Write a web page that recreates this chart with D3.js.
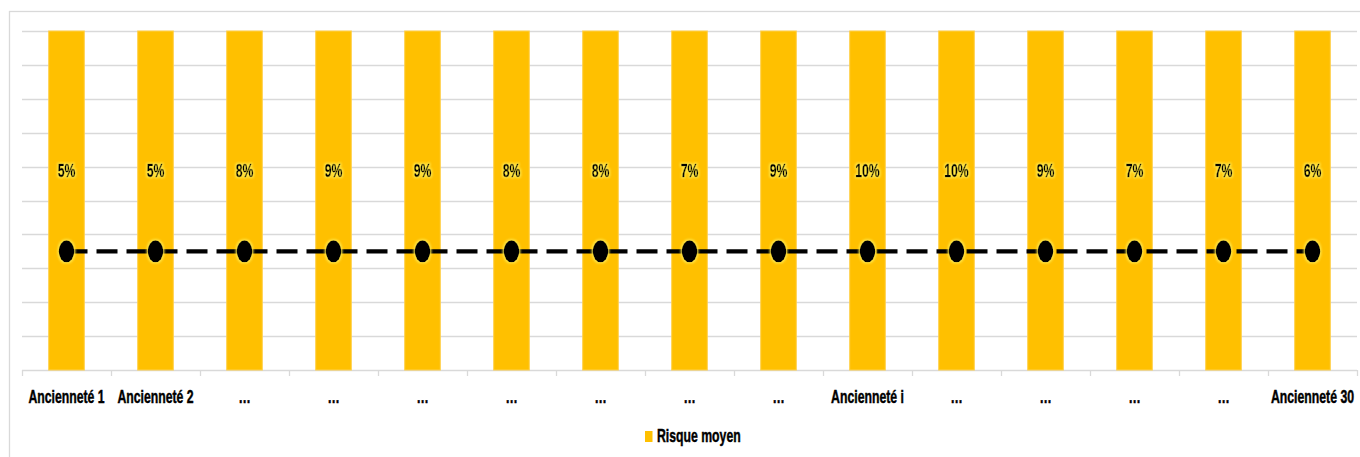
<!DOCTYPE html>
<html><head><meta charset="utf-8">
<script src="https://cdn.jsdelivr.net/npm/d3@7"></script>
<style>
html,body{margin:0;padding:0;background:#fff;}
svg{display:block;}
text{font-family:"Liberation Sans","Arial",sans-serif;font-weight:bold;fill:#000;stroke:#000;stroke-width:0.45px;}
</style></head>
<body>
<svg id="c" width="1360" height="457"></svg>
<script>
// ---- data ----
const categories = ["Ancienneté 1","Ancienneté 2","…","…","…","…","…","…","…","Ancienneté i","…","…","…","…","Ancienneté 30"];
const barValues = [1,1,1,1,1,1,1,1,1,1,1,1,1,1,1];          // bar height (share of axis max)
const riskLabels = [5,5,8,9,9,8,8,7,9,10,10,9,7,7,6];       // "Risque moyen" data labels (%)
const lineValues = [0.35,0.35,0.35,0.35,0.35,0.35,0.35,0.35,0.35,0.35,0.35,0.35,0.35,0.35,0.35];
const yTicks = [0,0.1,0.2,0.3,0.4,0.5,0.6,0.7,0.8,0.9,1];
const legendLabel = "Risque moyen";

const svg = d3.select("#c");
const pLeft = 22, pRight = 1357, pTop = 31, pBottom = 370;
const FS = 17.5, SX = 0.70;   // compressed text look

const defs = svg.append("defs");
const glow = defs.append("filter").attr("id","glow").attr("x","-50%").attr("y","-50%").attr("width","200%").attr("height","200%");
glow.append("feMorphology").attr("in","SourceAlpha").attr("operator","dilate").attr("radius",1).attr("result","d");
glow.append("feGaussianBlur").attr("in","d").attr("stdDeviation",1.2).attr("result","b");
glow.append("feFlood").attr("flood-color","#ffe84a").attr("result","f");
glow.append("feComposite").attr("in","f").attr("in2","b").attr("operator","in").attr("result","g");
const m = glow.append("feMerge");
m.append("feMergeNode").attr("in","g");
m.append("feMergeNode").attr("in","SourceGraphic");

// outer chart border
svg.append("rect").attr("x",9.5).attr("y",11.5).attr("width",1400).attr("height",500)
  .attr("fill","none").attr("stroke","#d9d9d9").attr("stroke-width",1.3);

const x = d3.scaleBand().domain(d3.range(categories.length)).range([pLeft,pRight]).paddingInner(0.6).paddingOuter(0.3);
const y = d3.scaleLinear().domain([0,1]).range([pBottom,pTop]);

// gridlines
svg.append("g").selectAll("line").data(yTicks).join("line")
  .attr("x1",pLeft).attr("x2",pRight)
  .attr("y1",d=>Math.round(y(d))+0.5).attr("y2",d=>Math.round(y(d))+0.5)
  .attr("stroke","#d9d9d9").attr("stroke-width",1.4);

// x-axis tick marks at band boundaries
const bounds = d3.range(categories.length+1).map(i => pLeft + i*x.step());
svg.append("g").selectAll("line").data(bounds).join("line")
  .attr("x1",d=>Math.round(d)+0.5).attr("x2",d=>Math.round(d)+0.5)
  .attr("y1",pBottom).attr("y2",pBottom+6)
  .attr("stroke","#d9d9d9").attr("stroke-width",1.3);

// bars
svg.append("g").selectAll("rect").data(barValues).join("rect")
  .attr("x",(d,i)=>x(i)).attr("width",x.bandwidth())
  .attr("y",d=>y(d)).attr("height",d=>y(0)-y(d))
  .attr("fill","#FFC000").attr("stroke","#ffd04a").attr("stroke-width",1);

// data labels
const labelLevel = 0.57;
svg.append("g").selectAll("text").data(riskLabels).join("text")
  .attr("transform",(d,i)=>`translate(${x(i)+x.bandwidth()/2},${y(labelLevel)}) scale(${SX},1)`)
  .attr("text-anchor","middle").attr("font-size",FS)
  .attr("filter","url(#glow)")
  .text(d=>d+"%");

// dashed line
const cx = i => x(i)+x.bandwidth()/2;
svg.append("path")
  .attr("d", d3.line().x((d,i)=>cx(i)).y(d=>y(d))(lineValues))
  .attr("fill","none").attr("stroke","#000").attr("stroke-width",4.2).attr("stroke-dasharray","21,9");

svg.append("g").selectAll("ellipse").data(lineValues).join("ellipse")
  .attr("cx",(d,i)=>cx(i)).attr("cy",d=>y(d)).attr("rx",7.8).attr("ry",11)
  .attr("fill","#000").attr("filter","url(#glow)");

// category labels
svg.append("g").selectAll("text").data(categories).join("text")
  .attr("transform",(d,i)=>`translate(${cx(i)},403) scale(${SX},1)`)
  .attr("text-anchor","middle").attr("font-size",FS)
  .text(d=>d);

// legend
const lg = svg.append("g");
lg.append("rect").attr("x",645).attr("y",431).attr("width",7.5).attr("height",11).attr("fill","#FFC000");
lg.append("text").attr("transform",`translate(657,442) scale(${SX},1)`).attr("font-size",FS).text(legendLabel);
</script>
</body></html>
